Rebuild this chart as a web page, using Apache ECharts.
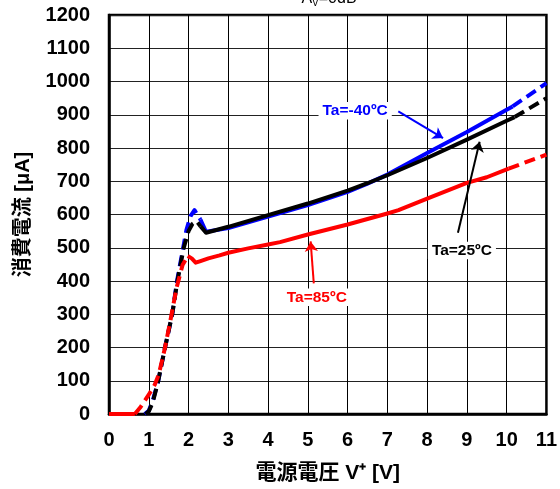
<!DOCTYPE html>
<html><head><meta charset="utf-8">
<script src="https://cdn.jsdelivr.net/npm/echarts@6/dist/echarts.min.js"></script>
<style>html,body{margin:0;padding:0;background:#fff}#c{width:560px;height:489px}</style>
</head><body><div id="c"></div>
<script>
// Supply current vs supply voltage (V+ in volts, current in µA)

// Ta = -40 °C
const v40Rise = [0.9, 1.0, 1.1, 1.23, 1.4, 1.59, 1.71, 1.85, 1.95, 2.05, 2.15, 2.2, 2.3];
const i40Rise = [0, 10, 40, 95, 195, 300, 400, 490, 555, 595, 613, 615, 585];
const v40Main = [2.3, 2.44, 3, 4, 5, 6, 6.5, 7, 8, 9, 10, 10.15];
const i40Main = [585, 548, 559, 594, 628, 668, 693, 720, 785, 848, 915, 925];
const v40Tail = [10.15, 11];
const i40Tail = [925, 995];

// Ta = 25 °C
const v25Rise = [0.92, 1.0, 1.1, 1.23, 1.4, 1.59, 1.72, 1.88, 2.0, 2.1, 2.2, 2.3];
const i25Rise = [0, 8, 35, 95, 195, 300, 400, 500, 550, 572, 580, 565];
const v25Main = [2.3, 2.44, 3, 4, 5, 6, 6.5, 7, 8, 9, 10, 10.2];
const i25Main = [565, 545, 563, 598, 633, 672, 694, 718, 770, 825, 882, 893];
const v25Tail = [10.2, 11];
const i25Tail = [893, 950];

// Ta = 85 °C
const v85Zero = [0, 0.65];
const i85Zero = [0, 0];
const v85Rise = [0.65, 0.8, 1.0, 1.15, 1.25, 1.4, 1.55, 1.7, 1.85, 1.98];
const i85Rise = [0, 22, 58, 88, 118, 195, 285, 380, 448, 475];
const v85Main = [1.98, 2.08, 2.18, 2.3, 2.5, 2.78, 3, 3.5, 4, 4.3, 5, 6, 7, 7.28, 8, 9, 9.5, 10.05];
const i85Main = [475, 468, 455, 460, 468, 477, 485, 498, 510, 517, 540, 570, 603, 613, 648, 695, 712, 738];
const v85Tail = [10.05, 11];
const i85Tail = [738, 780];

// Curve annotations (data coordinates)
const noteText  = ['Ta=-40ºC', 'Ta=25ºC', 'Ta=85ºC'];
const noteColor = ['#0000ff', '#000000', '#ff0000'];
const noteAt    = [[6.19, 912], [8.875, 492], [5.225, 351]];
const arrowFrom = [[7.275, 910], [8.775, 545], [5.15, 393]];
const arrowTo   = [[8.4, 830], [9.32, 819], [5.07, 519]];

const FONT = '"Liberation Sans", Arial, "Noto Sans CJK JP", sans-serif';
const zip = (xs, ys) => xs.map((x, k) => [x, ys[k]]);

function seg(xs, ys, color, dashed, z, extra) {
  return Object.assign({
    type: 'line', data: zip(xs, ys), showSymbol: false, symbol: 'none',
    z: z, silent: true, animation: false,
    lineStyle: { color: color, width: 4, type: dashed ? [11, 6] : 'solid', cap: 'butt', join: 'round' }
  }, extra || {});
}

function notes(k, z) {
  return {
    type: 'line', data: [], z: z, silent: true, animation: false,
    markPoint: {
      symbol: 'circle', symbolSize: 0, silent: true, animation: false,
      data: [{
        coord: noteAt[k],
        label: {
          show: true, position: 'inside', formatter: noteText[k],
          color: noteColor[k], fontFamily: FONT, fontWeight: 'bold', fontSize: 15.5,
          backgroundColor: '#fff', padding: [1, 4, 1, 4]
        }
      }]
    },
    markLine: {
      silent: true, animation: false, symbol: ['none', 'arrow'], symbolSize: 10,
      label: { show: false },
      lineStyle: { color: noteColor[k], width: 2, type: 'solid' },
      data: [[{ coord: arrowFrom[k] }, { coord: arrowTo[k] }]]
    }
  };
}

const chart = echarts.init(document.getElementById('c'), null, { renderer: 'canvas' });
chart.setOption({
  animation: false,
  backgroundColor: '#fff',
  grid: { left: 109, right: 11, top: 15, bottom: 74, show: true, borderColor: '#000', borderWidth: 2.5, backgroundColor: 'transparent' },
  graphic: [{
    type: 'text', x: 329, y: 8, silent: true,
    style: {
      text: 'A{s|V}=0dB', textAlign: 'center', textVerticalAlign: 'bottom',
      fontFamily: FONT, fontSize: 16, fill: '#000',
      rich: { s: { fontSize: 10, fontFamily: FONT, padding: [8, 0, 0, 0] } }
    }
  }],
  xAxis: {
    type: 'value', min: 0, max: 11, interval: 1,
    name: '電源電圧 V⁺ [V]', nameLocation: 'middle', nameGap: 49,
    nameTextStyle: { fontFamily: FONT, fontWeight: 'bold', fontSize: 21, color: '#000' },
    axisLine: { show: true, lineStyle: { color: '#000', width: 2.5 } },
    axisTick: { show: false },
    axisLabel: { margin: 16, fontFamily: FONT, fontWeight: 'bold', fontSize: 20, color: '#000' },
    splitLine: { show: true, lineStyle: { color: '#000', width: 1 } }
  },
  yAxis: {
    type: 'value', min: 0, max: 1200, interval: 100,
    name: '消費電流 [μA]', nameLocation: 'middle', nameGap: 76, nameRotate: 90,
    nameTextStyle: { fontFamily: FONT, fontWeight: 'bold', fontSize: 20, color: '#000' },
    axisLine: { show: true, lineStyle: { color: '#000', width: 2.5 } },
    axisTick: { show: false },
    axisLabel: { margin: 19, fontFamily: FONT, fontWeight: 'bold', fontSize: 20, color: '#000',
                 formatter: v => String(v) },
    splitLine: { show: true, lineStyle: { color: '#222', width: 1 } }
  },
  series: [
    seg(v40Rise, i40Rise, '#0000ff', true, 2),
    seg(v40Main, i40Main, '#0000ff', false, 2),
    seg(v40Tail, i40Tail, '#0000ff', true, 2),
    seg(v25Rise, i25Rise, '#000000', true, 3),
    seg(v25Main, i25Main, '#000000', false, 3),
    seg(v25Tail, i25Tail, '#000000', true, 3),
    seg(v85Zero, i85Zero, '#ff0000', false, 4, { clip: false }),
    seg(v85Rise, i85Rise, '#ff0000', true, 4, { clip: false }),
    seg(v85Main, i85Main, '#ff0000', false, 4),
    seg(v85Tail, i85Tail, '#ff0000', true, 4),
    notes(0, 6), notes(1, 6), notes(2, 6)
  ]
});
</script>
</body></html>
